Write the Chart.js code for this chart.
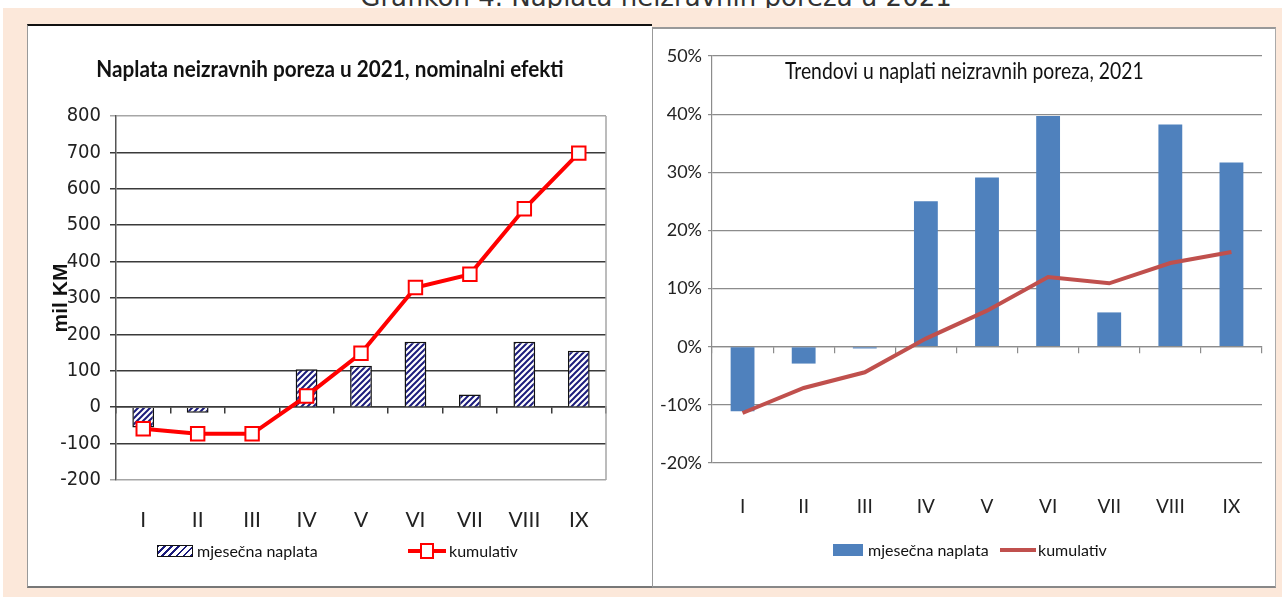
<!DOCTYPE html>
<html lang="bs">
<head>
<meta charset="UTF-8">
<title>Naplata neizravnih poreza u 2021</title>
<script src="https://cdn.jsdelivr.net/npm/chart.js@4.4.0/dist/chart.umd.min.js"></script>
<style>
    body{
        margin:0;
        width:1282px;
        height:597px;
        overflow:hidden;
        position:relative;
        background:#fff;
    }
    .caption{
        position:absolute; left:656px; top:-18px;
        transform:translateX(-50%);
        white-space:nowrap;
        font-family:'DejaVu Sans', sans-serif; font-size:26px; color:#333;
    }
    .band{position:absolute; left:3px; top:8px; right:0; bottom:0; background:#fce8da;}
    .panel{position:absolute; background:#fff; box-sizing:border-box;}
    #p1{left:27px; top:24px; width:625px; height:564px; border-top:2px solid #111; border-left:1px solid #999; border-bottom:2px solid #777;}
    #p2{left:652px; top:27px; width:624px; height:561px; border-top:2px solid #999; border-left:1px solid #999; border-right:1px solid #aaa; border-bottom:2px solid #888;}
    canvas{position:absolute;}
    #c1{left:28px; top:26px;}
    #c2{left:653px; top:28px;}
    .title{position:absolute; white-space:nowrap; color:#111;}
    #t1{left:330px; top:54px; transform:translateX(-50%) scaleX(0.9); font-family:Lato, sans-serif; font-weight:bold; font-size:23px;}
    #t2{left:785px; top:56px; transform-origin:0 50%; transform:scaleX(0.84); font-family:Lato, sans-serif; font-size:23px;}
    .leg{position:absolute; font-family:Lato, sans-serif; font-size:16px; color:#111; white-space:nowrap; display:flex; align-items:center;}
    .sw-hatch{display:inline-block; width:36px; height:12px; border:1px solid #111; box-sizing:border-box; margin-right:4px;
        background:repeating-linear-gradient(-45deg, #1c1c7c 0 2px, #fff 2px 5px);}
    .sw-blue{display:inline-block; width:30px; height:12px; background:#4f81bd; margin-right:5px;}
    .sw-redline{display:inline-block; width:36px; height:4px; background:#c0504d; margin-right:2px;}
    .sw-marker{position:relative; display:inline-block; width:38px; height:16px; margin-right:3px;}
    .sw-marker::before{content:''; position:absolute; left:0; right:0; top:6px; height:4px; background:#ff0000;}
    .sw-marker::after{content:''; position:absolute; left:12px; top:0; width:10px; height:12px; border:2px solid #ff0000; background:#fff;}
</style>
</head>
<body>
<div class="caption">Grafikon 4. Naplata neizravnih poreza u 2021</div>
<div class="band"></div>
<div class="panel" id="p1"></div>
<div class="panel" id="p2"></div>
<canvas id="c1" width="623" height="560"></canvas>
<canvas id="c2" width="622" height="559"></canvas>
<div class="title" id="t1">Naplata neizravnih poreza u 2021, nominalni efekti</div>
<div class="title" id="t2">Trendovi u naplati neizravnih poreza, 2021</div>
<div class="leg" style="left:157px; top:541px;"><span class="sw-hatch"></span>mjesečna naplata</div>
<div class="leg" style="left:408px; top:541px;"><span class="sw-marker"></span>kumulativ</div>
<div class="leg" style="left:833px; top:540px;"><span class="sw-blue"></span>mjesečna naplata</div>
<div class="leg" style="left:1000px; top:540px;"><span class="sw-redline"></span>kumulativ</div>

<script>
// mjeseci
const months = ['I', 'II', 'III', 'IV', 'V', 'VI', 'VII', 'VIII', 'IX'];

// lijevi grafikon, mil KM
const monthlyKM = [-56, -15, -2, 104, 114, 180, 35, 180, 155];
const cumulativeKM = [-59, -73, -73, 31, 148, 329, 365, 545, 698];
const kmMin = -200, kmMax = 800, kmStep = 100;

// desni grafikon, %
const monthlyPct = [-11.1, -2.9, -0.3, 25.0, 29.1, 39.7, 5.9, 38.2, 31.7];
const cumulativePct = [-11.4, -7.1, -4.4, 1.4, 6.2, 12.0, 10.9, 14.4, 16.3];
const pctMin = -20, pctMax = 50, pctStep = 10;

const narrow = "'Liberation Sans Narrow', 'DejaVu Sans Condensed', sans-serif";

Chart.defaults.animation = false;
Chart.defaults.plugins.legend.display = false;
Chart.defaults.plugins.tooltip.enabled = false;

function hatch() {
    const c = document.createElement('canvas');
    c.width = 6; c.height = 6;
    const g = c.getContext('2d');
    g.fillStyle = '#fff';
    g.fillRect(0, 0, 6, 6);
    g.strokeStyle = '#1c1c7c';
    g.lineWidth = 2;
    g.beginPath();
    g.moveTo(0, 6); g.lineTo(6, 0);
    g.moveTo(-3, 3); g.lineTo(3, -3);
    g.moveTo(3, 9); g.lineTo(9, 3);
    g.stroke();
    return g.createPattern(c, 'repeat');
}

// desna ivica okvira na lijevom grafikonu
const frame = {
    id: 'frame',
    beforeDatasetsDraw(chart) {
        const a = chart.chartArea, ctx = chart.ctx;
        ctx.save();
        ctx.strokeStyle = '#a6a6a6';
        ctx.lineWidth = 1.5;
        ctx.beginPath();
        ctx.moveTo(a.right, a.top);
        ctx.lineTo(a.right, a.bottom);
        ctx.stroke();
        ctx.restore();
    }
};

new Chart(document.getElementById('c1'), {
    type: 'bar',
    data: {
        labels: months,
        datasets: [{
            type: 'line',
            label: 'kumulativ',
            data: cumulativeKM,
            borderColor: '#ff0000',
            borderWidth: 4,
            pointStyle: 'rect',
            pointRadius: 9.5,
            pointBorderWidth: 2,
            pointBorderColor: '#ff0000',
            pointBackgroundColor: '#fff',
            xAxisID: 'x',
            order: 0
        }, {
            label: 'mjesečna naplata',
            data: monthlyKM,
            backgroundColor: hatch(),
            borderColor: '#111',
            borderWidth: 1.5,
            barPercentage: 0.4,
            categoryPercentage: 1,
            xAxisID: 'x',
            order: 1
        }]
    },
    options: {
        responsive: false,
        layout: { padding: { top: 90, right: 45, left: 0, bottom: 0 } },
        scales: {
            y: {
                min: kmMin, max: kmMax,
                ticks: { stepSize: kmStep, padding: 9, color: '#222', font: { family: narrow, size: 20 } },
                grid: {
                    color: c => (c.tick && (c.tick.value === kmMax || c.tick.value === kmMin)) ? '#a6a6a6' : '#3a3a3a',
                    lineWidth: 1.5,
                    tickLength: 6
                },
                border: { color: '#555', width: 1.5 },
                title: { display: true, text: 'mil KM', color: '#111', padding: { top: 21, bottom: 0 },
                    font: { family: "'Liberation Sans', Arial, sans-serif", size: 21, weight: 'bold' } },
                afterFit(s) { s.width = 88; }
            },
            x: {
                position: { y: 0 },
                offset: true,
                grid: { offset: true, drawOnChartArea: false, tickLength: 6, color: '#3a3a3a', lineWidth: 1.5 },
                border: { color: '#3a3a3a', width: 1.5 },
                ticks: { display: false }
            },
            xl: {
                type: 'category',
                position: 'bottom',
                offset: true,
                grid: { display: false },
                border: { display: false },
                ticks: { padding: 20, color: '#222', font: { family: 'Lato, sans-serif', size: 21 } },
                afterFit(s) { s.height = 106; }
            }
        }
    },
    plugins: [frame]
});

new Chart(document.getElementById('c2'), {
    type: 'bar',
    data: {
        labels: months,
        datasets: [{
            type: 'line',
            label: 'kumulativ',
            data: cumulativePct,
            borderColor: '#c0504d',
            borderWidth: 4,
            pointRadius: 0,
            xAxisID: 'x',
            order: 0
        }, {
            label: 'mjesečna naplata',
            data: monthlyPct,
            backgroundColor: '#4f81bd',
            borderWidth: 0,
            barPercentage: 0.39,
            categoryPercentage: 1,
            xAxisID: 'x',
            order: 1
        }]
    },
    options: {
        responsive: false,
        layout: { padding: { top: 28, right: 13, left: 0, bottom: 0 } },
        scales: {
            y: {
                min: pctMin, max: pctMax,
                ticks: { stepSize: pctStep, padding: 6, color: '#222', callback: v => v + '%',
                    font: { family: 'Lato, sans-serif', size: 18 } },
                grid: { color: '#8c8c8c', lineWidth: 1.2, tickLength: 4 },
                border: { color: '#8c8c8c', width: 1.2 },
                afterFit(s) { s.width = 59; }
            },
            x: {
                position: { y: 0 },
                offset: true,
                grid: { offset: true, drawOnChartArea: false, tickLength: 6, color: '#8c8c8c', lineWidth: 1.2 },
                border: { color: '#8c8c8c', width: 1.2 },
                ticks: { display: false }
            },
            xl: {
                type: 'category',
                position: 'bottom',
                offset: true,
                grid: { display: false },
                border: { display: false },
                ticks: { padding: 24, color: '#222', font: { family: 'Lato, sans-serif', size: 19 } },
                afterFit(s) { s.height = 124; }
            }
        }
    }
});
</script>
</body>
</html>
